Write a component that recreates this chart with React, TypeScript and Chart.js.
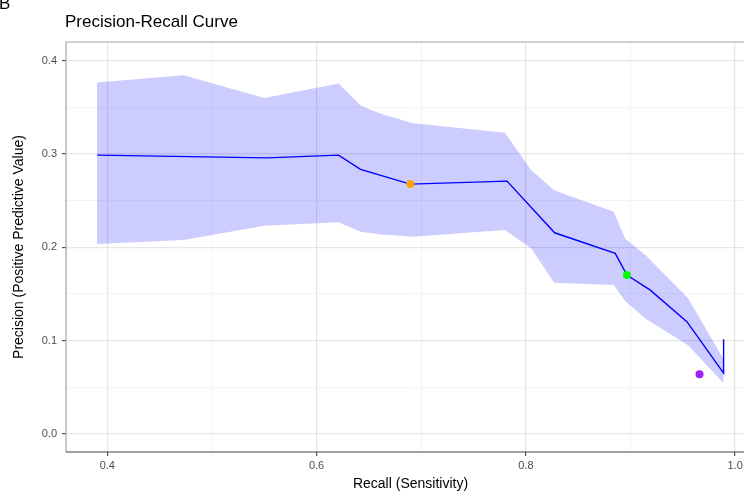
import React, { useEffect, useRef } from "react";
import { Chart, registerables } from "chart.js";

Chart.register(...registerables);

const PANEL_LABEL = "B";
const TITLE = "Precision-Recall Curve";
const X_TITLE = "Recall (Sensitivity)";
const Y_TITLE = "Precision (Positive Predictive Value)";

// Confidence ribbon
const ribbonX = [0.39, 0.473, 0.55, 0.621, 0.642, 0.66, 0.691, 0.78, 0.805, 0.827, 0.884, 0.895, 0.915, 0.955, 0.989];
const ribbonUpper = [0.3765, 0.3844, 0.36, 0.3755, 0.352, 0.3437, 0.3333, 0.3226, 0.2827, 0.2612, 0.238, 0.209, 0.191, 0.1453, 0.08];
const ribbonLower = [0.2034, 0.2077, 0.223, 0.2267, 0.2166, 0.2138, 0.2113, 0.2184, 0.1988, 0.162, 0.1595, 0.142, 0.123, 0.095, 0.0543];

// Precision-recall curve
const curveX = [0.3904, 0.5526, 0.621, 0.642, 0.6896, 0.782, 0.8275, 0.8854, 0.8966, 0.9189, 0.9539, 0.989, 0.989];
const curveY = [0.2987, 0.2958, 0.2987, 0.2835, 0.2677, 0.2709, 0.2155, 0.1935, 0.1702, 0.154, 0.1202, 0.065, 0.1014];

// Highlighted points
const markerX = [0.6896, 0.8966, 0.966];
const markerY = [0.2677, 0.1702, 0.0639];
const markerColors = ["#FFA500", "#00FF00", "#A020F0"];

// Axis ticks
const xMajor = [0.4, 0.6, 0.8, 1.0];
const xMinor = [0.5, 0.7, 0.9];
const yMajor = [0, 0.1, 0.2, 0.3, 0.4];
const yMinor = [0.05, 0.15, 0.25, 0.35];

const X_MIN = 0.3605;
const X_MAX = 1.019;
const Y_MIN = -0.0195;
const Y_MAX = 0.42;

const FONT = '"Liberation Sans", Arial, Helvetica, sans-serif';

const isIn = (arr: number[], v: number) => arr.some((a) => Math.abs(a - v) < 1e-9);

const decorPlugin = {
  id: "decor",
  afterDatasetsDraw(chart: any) {
    const { ctx, chartArea: a } = chart;
    ctx.save();
    ctx.strokeStyle = "#a3a3a3";
    ctx.lineWidth = 1.2;
    ctx.beginPath();
    ctx.moveTo(a.left, a.bottom);
    ctx.lineTo(a.left, a.top);
    ctx.lineTo(a.right, a.top);
    ctx.lineTo(a.right, a.bottom);
    ctx.stroke();
    ctx.strokeStyle = "#444444";
    ctx.beginPath();
    ctx.moveTo(a.left, a.bottom);
    ctx.lineTo(a.right, a.bottom);
    ctx.stroke();
    ctx.restore();
  },
  afterDraw(chart: any) {
    const ctx = chart.ctx;
    ctx.save();
    ctx.fillStyle = "#000000";
    ctx.textAlign = "left";
    ctx.textBaseline = "alphabetic";
    ctx.font = "17px " + FONT;
    ctx.fillText(PANEL_LABEL, -1, 9);
    ctx.fillText(TITLE, 65, 27);
    ctx.restore();
  },
};

export default function App() {
  const ref = useRef<HTMLCanvasElement | null>(null);

  useEffect(() => {
    if (!ref.current) return;
    const chart = new Chart(ref.current, {
      type: "scatter",
      data: {
        datasets: [
          {
            label: "lower",
            data: ribbonX.map((x, i) => ({ x, y: ribbonLower[i] })),
            showLine: true,
            borderWidth: 0,
            borderColor: "rgba(0,0,0,0)",
            pointRadius: 0,
            fill: false,
            order: 4,
          },
          {
            label: "upper",
            data: ribbonX.map((x, i) => ({ x, y: ribbonUpper[i] })),
            showLine: true,
            borderWidth: 0,
            borderColor: "rgba(0,0,0,0)",
            backgroundColor: "rgba(0,0,255,0.2)",
            pointRadius: 0,
            fill: "-1",
            order: 3,
          },
          {
            label: "curve",
            data: curveX.map((x, i) => ({ x, y: curveY[i] })),
            showLine: true,
            borderColor: "#0000FF",
            borderWidth: 1.4,
            pointRadius: 0,
            fill: false,
            order: 2,
          },
          {
            label: "markers",
            data: markerX.map((x, i) => ({ x, y: markerY[i] })),
            showLine: false,
            pointRadius: 4,
            pointBorderWidth: 0,
            pointBackgroundColor: markerColors,
            pointBorderColor: markerColors,
            order: 1,
          },
        ],
      },
      options: {
        animation: false,
        responsive: false,
        events: [],
        layout: { padding: { left: 0, top: 42, right: 15, bottom: 0 } },
        plugins: {
          legend: { display: false },
          tooltip: { enabled: false },
          title: { display: false },
        },
        scales: {
          x: {
            type: "linear",
            min: X_MIN,
            max: X_MAX,
            afterBuildTicks: (s: any) => {
              s.ticks = [...xMajor, ...xMinor].sort((a, b) => a - b).map((v) => ({ value: v }));
            },
            afterFit: (s: any) => {
              s.height = 44;
            },
            border: { display: false },
            grid: {
              color: (c: any) => (isIn(xMajor, c.tick?.value) ? "#e6e6e6" : "#f1f1f1"),
              lineWidth: (c: any) => (isIn(xMajor, c.tick?.value) ? 1.3 : 0.8),
              tickColor: (c: any) => (isIn(xMajor, c.tick?.value) ? "#333333" : "rgba(0,0,0,0)"),
              tickLength: 4,
              tickWidth: 1,
            },
            ticks: {
              autoSkip: false,
              maxRotation: 0,
              padding: 3,
              color: "#4d4d4d",
              font: { family: FONT, size: 11 },
              callback: (v: any) => (isIn(xMajor, Number(v)) ? Number(v).toFixed(1) : ""),
            },
            title: {
              display: true,
              text: X_TITLE,
              color: "#000000",
              font: { family: FONT, size: 14 },
              padding: { top: 0, bottom: 3 },
            },
          },
          y: {
            type: "linear",
            min: Y_MIN,
            max: Y_MAX,
            afterBuildTicks: (s: any) => {
              s.ticks = [...yMajor, ...yMinor].sort((a, b) => a - b).map((v) => ({ value: v }));
            },
            afterFit: (s: any) => {
              s.width = 66;
            },
            border: { display: false },
            grid: {
              color: (c: any) => (isIn(yMajor, c.tick?.value) ? "#e6e6e6" : "#f1f1f1"),
              lineWidth: (c: any) => (isIn(yMajor, c.tick?.value) ? 1.3 : 0.8),
              tickColor: (c: any) => (isIn(yMajor, c.tick?.value) ? "#333333" : "rgba(0,0,0,0)"),
              tickLength: 4,
              tickWidth: 1,
            },
            ticks: {
              autoSkip: false,
              padding: 5,
              color: "#4d4d4d",
              font: { family: FONT, size: 11 },
              callback: (v: any) => (isIn(yMajor, Number(v)) ? Number(v).toFixed(1) : ""),
            },
            title: {
              display: true,
              text: Y_TITLE,
              color: "#000000",
              font: { family: FONT, size: 14 },
              padding: { top: 11, bottom: 0 },
            },
          },
        },
      },
      plugins: [decorPlugin],
    } as any);
    return () => chart.destroy();
  }, []);

  return (
    <div
      style={{
        position: "fixed",
        left: 0,
        top: 0,
        width: 744,
        height: 496,
        overflow: "hidden",
        background: "#ffffff",
      }}
    >
      <canvas ref={ref} width={770} height={496} style={{ width: 770, height: 496, display: "block" }} />
    </div>
  );
}
